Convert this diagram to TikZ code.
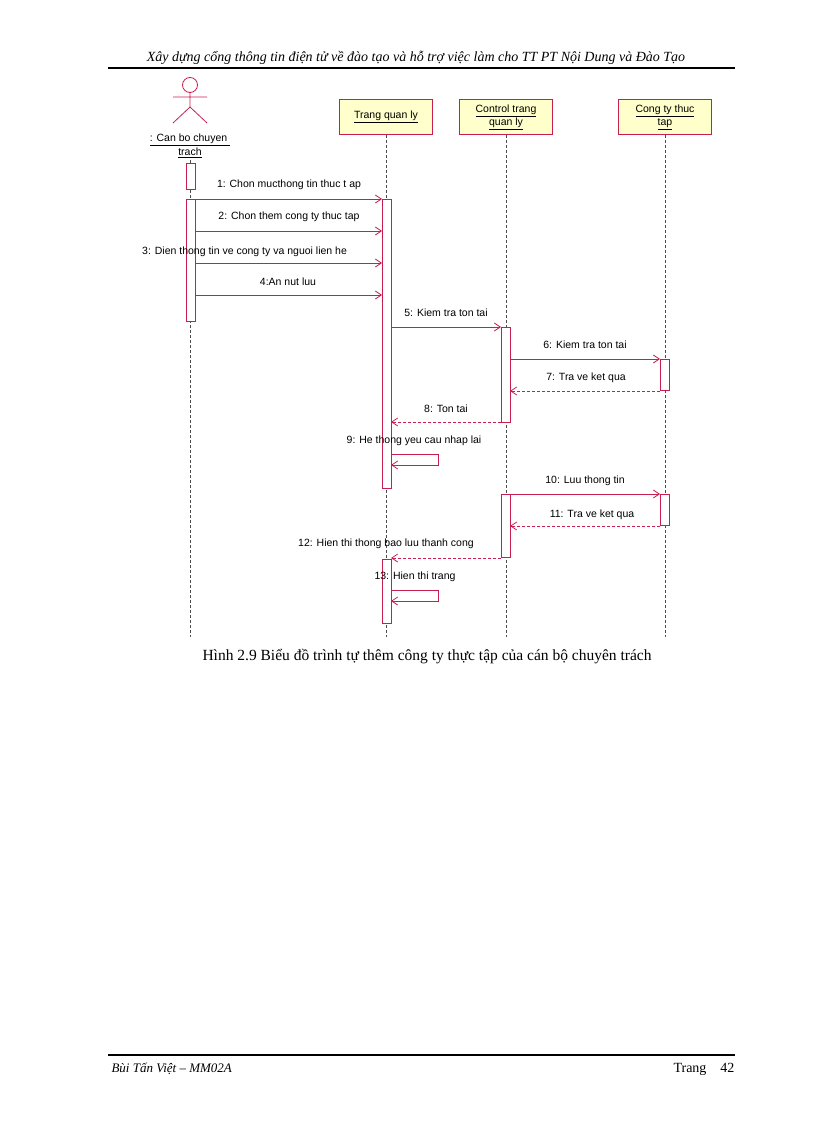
\documentclass[tikz,border=0pt]{standalone}
\usepackage{fontspec}
\setmainfont{Liberation Serif}
\newfontfamily\arial{Liberation Sans}
\usetikzlibrary{arrows.meta}
\definecolor{uml}{RGB}{200,30,80}
\definecolor{boxy}{RGB}{255,255,204}
\begin{document}
\begin{tikzpicture}[x=1pt,y=-1pt,
  obj/.style={draw=uml,fill=boxy,thick,minimum width=93pt,minimum height=35pt,align=center,font=\arial\fontsize{10.5}{13}\selectfont},
  life/.style={densely dashed,black!70},
  bar/.style={draw=uml,fill=white,thick},
  msg/.style={uml,thick,-{Straight Barb[length=6pt,width=8pt]}},
  ret/.style={uml,thick,densely dashed,-{Straight Barb[length=6pt,width=8pt]}},
  lbl/.style={font=\arial\fontsize{10.5}{12}\selectfont,inner sep=1pt}]
\useasboundingbox (0,0) rectangle (816,1123);
% header/footer
\node[font=\itshape\fontsize{14}{16}\selectfont,anchor=base] (hdr) at (416,62) {Xây dựng cổng thông tin điện tử về đào tạo và hỗ trợ việc làm cho TT PT Nội Dung và Đào Tạo};
\draw[line width=2pt] (108,68) -- (735,68);
\draw[line width=2pt] (108,1055) -- (735,1055);
\node[font=\itshape\fontsize{13}{15}\selectfont,anchor=base west] (ftl) at (108,1072) {Bùi Tấn Việt – MM02A};
\node[font=\fontsize{14}{16}\selectfont,anchor=base east] (ftr) at (738,1072) {Trang\quad 42};
% objects
\node[obj] (tq) at (386,117) {\underline{Trang quan ly}};
\node[obj] (ct) at (506,117) {\underline{Control trang}\\\underline{quan ly}};
\node[obj] (cy) at (665,117) {\underline{Cong ty thuc}\\\underline{tap}};
% actor
\draw[uml,thick] (190,85) circle (7.5);
\draw[uml,thick] (190,92.5) -- (190,107) (173,97) -- (207,97) (173,123) -- (190,107) -- (207,123);
\node[lbl,align=center,font=\arial\fontsize{10.5}{14}\selectfont] (act) at (190,146) {\underline{: Can bo chuyen }\\\underline{trach}};
% lifelines
\coordinate (a0) at (190,160); \coordinate (a1) at (190,637);
\coordinate (t1) at (386,637); \coordinate (c1) at (506,637); \coordinate (y1) at (665,637);
\draw[life] (a0) -- (a1);
\draw[life] (tq.south) -- (t1);
\draw[life] (ct.south) -- (c1);
\draw[life] (cy.south) -- (y1);
% activation bars
\draw[bar] (186,163) rectangle (195,189);
\draw[bar] (186,199) rectangle (195,321);
\draw[bar] (382,199) rectangle (391,488);
\draw[bar] (382,559) rectangle (391,623);
\draw[bar] (501,327) rectangle (510,422);
\draw[bar] (501,494) rectangle (510,557);
\draw[bar] (660,359) rectangle (669,390);
\draw[bar] (660,494) rectangle (669,525);
% messages
\draw[msg] (195,199) -- (382,199); \node[lbl] at (289,185) {1: Chon mucthong tin thuc t ap};
\draw[msg] (195,231) -- (382,231); \node[lbl] at (289,217) {2: Chon them cong ty thuc tap};
\draw[msg] (195,263) -- (382,263); \node[lbl,anchor=west] at (141,252) {3: Dien thong tin ve cong ty va nguoi lien he};
\draw[msg] (195,295) -- (382,295); \node[lbl] at (288,282) {4:An nut luu};
\draw[msg] (391,327) -- (501,327); \node[lbl] at (446,313) {5: Kiem tra ton tai};
\draw[msg] (510,359) -- (660,359); \node[lbl] at (585,345) {6: Kiem tra ton tai};
\draw[ret] (660,391) -- (510,391); \node[lbl] at (586,378) {7: Tra ve ket qua};
\draw[ret] (501,422) -- (391,422); \node[lbl] at (446,409) {8: Ton tai};
\node[lbl] at (414,441) {9: He thong yeu cau nhap lai};
\draw[msg] (391,454) -- (438,454) -- (438,465) -- (391,465);
\draw[msg] (510,494) -- (660,494); \node[lbl] at (585,481) {10: Luu thong tin};
\draw[ret] (660,526) -- (510,526); \node[lbl] at (592,515) {11: Tra ve ket qua};
\draw[ret] (501,558) -- (391,558); \node[lbl] at (386,544) {12: Hien thi thong bao luu thanh cong};
\node[lbl] at (415,577) {13: Hien thi trang};
\draw[msg] (391,590) -- (438,590) -- (438,601) -- (391,601);
% caption
\node[font=\fontsize{15.5}{18}\selectfont] (cap) at (427,657) {Hình 2.9 Biểu đồ trình tự thêm công ty thực tập của cán bộ chuyên trách};
\end{tikzpicture}
\end{document}
